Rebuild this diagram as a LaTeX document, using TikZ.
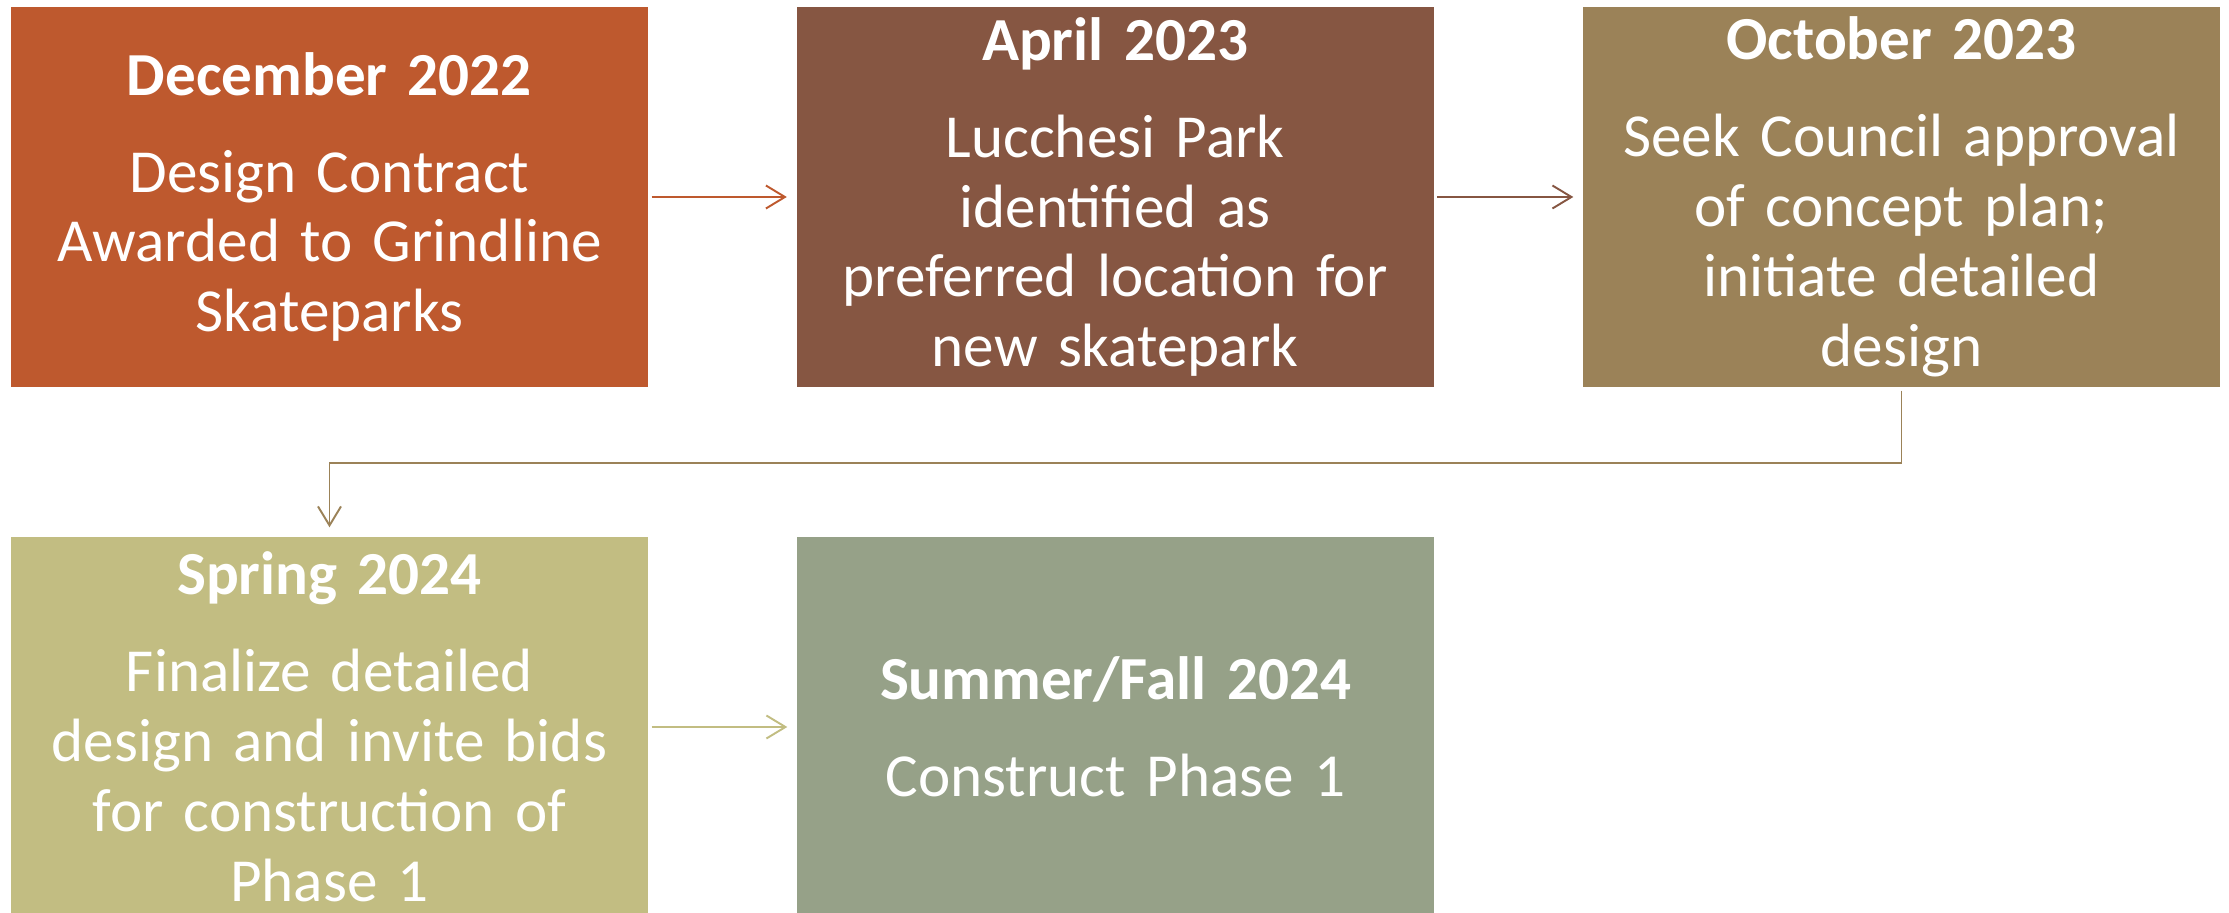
\documentclass[tikz,border=0pt]{standalone}
\usepackage{fontspec}
\setmainfont{Carlito}
\usepackage{xcolor}
\usepackage{tikz}
\usetikzlibrary{arrows.meta}
\definecolor{rust}{HTML}{BE592E}
\definecolor{umber}{HTML}{865642}
\definecolor{khaki}{HTML}{9B8258}
\definecolor{straw}{HTML}{C2BD82}
\definecolor{sage}{HTML}{96A188}
\tikzset{
  stage/.style={rectangle, inner sep=0pt, minimum width=6.37cm, minimum height=3.8cm,
    text width=6.2cm, align=center, text=white,
    font=\fontsize{17.4}{19.9}\selectfont},
  flow/.style={line width=0.55pt, shorten <=0.03cm, shorten >=0.09cm,
    -{Straight Barb[length=1.9mm, width=2.3mm, line width=0.55pt]}}
}
\newcommand{\when}[1]{\textbf{#1}\\[0.27cm]}

\begin{document}
\begin{tikzpicture}
  \useasboundingbox (0,0) rectangle (22.29,9.12);
  \clip (0,0) rectangle (22.29,9.12);

  \coordinate (P1) at (3.295,7.15);
  \coordinate (P2) at (11.15,7.15);
  \coordinate (P3) at (19.015,7.15);
  \coordinate (P4) at (3.295,1.85);
  \coordinate (P5) at (11.155,1.85);

  \node[stage, fill=rust]  (dec) at (P1) {\when{December 2022}Design Contract\\Awarded to Grindline\\Skateparks};
  \node[stage, fill=umber] (apr) at (P2) {\when{April 2023}Lucchesi Park\\identified as\\preferred location for\\new skatepark};
  \node[stage, fill=khaki] (oct) at (P3) {\when{October 2023}Seek Council approval\\of concept plan;\\initiate detailed\\design};
  \node[stage, fill=straw] (spr) at (P4) {\when{Spring 2024}Finalize detailed\\design and invite bids\\for construction of\\Phase 1};
  \node[stage, fill=sage]  (sum) at (P5) {\when{Summer/Fall 2024}Construct Phase 1};

  \draw[flow, draw=rust] (dec) -- (apr);
  \draw[flow, draw=umber] (apr) -- (oct);
  \draw[flow, draw=khaki] (oct.south) -- ++(0,-0.75) -| (spr.north);
  \draw[flow, draw=straw] (spr) -- (sum);
\end{tikzpicture}
\end{document}
